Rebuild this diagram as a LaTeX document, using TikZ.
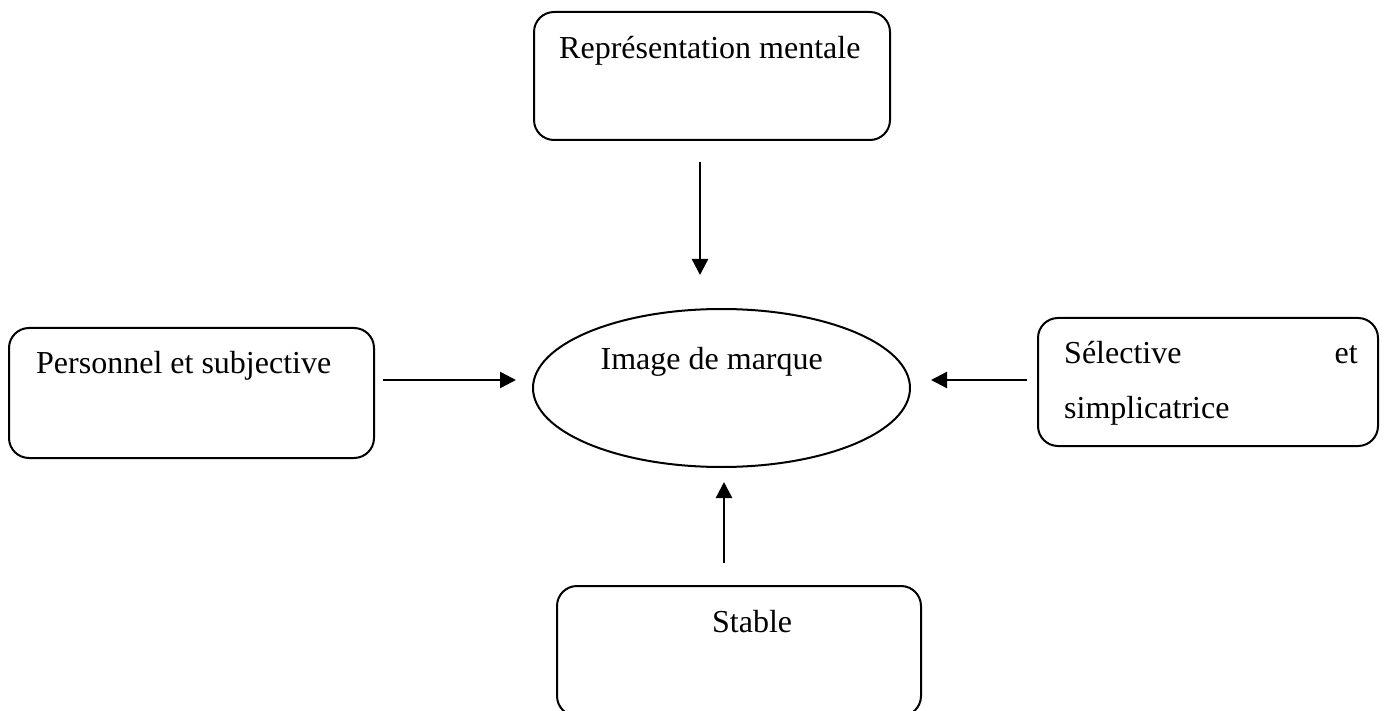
\documentclass[tikz,border=0pt]{standalone}
\usepackage{fontspec}
\setmainfont{Liberation Serif}
\usetikzlibrary{arrows.meta,shapes.geometric}
\begin{document}
\begin{tikzpicture}[x=1pt,y=-1pt,
  box/.style={draw, line width=2pt, rounded corners=20pt, inner sep=0pt},
  oval/.style={draw, ellipse, line width=2pt, inner sep=0pt},
  lbl/.style={inner sep=0pt, font=\fontsize{32}{38}\selectfont},
  arr/.style={line width=2.4pt, -{Triangle[length=16pt,width=16pt]}}]
\useasboundingbox (0,0) rectangle (1387,711);

% frames
\node[box, minimum width=356pt, minimum height=128pt] (rep) at (712,76) {};
\node[box, minimum width=365pt, minimum height=130pt] (pers) at (191.5,393) {};
\node[box, minimum width=340pt, minimum height=128pt] (sel) at (1208,382) {};
\node[box, minimum width=364pt, minimum height=130pt] (stab) at (739,651) {};
\node[oval, minimum width=377pt, minimum height=158pt] (img) at (721.5,388) {};

% texts
\node[lbl, anchor=base west] (repT) at (559,59) {Représentation mentale};
\node[lbl, anchor=base west] (persT) at (36,373) {Personnel et subjective};
\node[lbl, anchor=base west] (selA) at (1064,363) {Sélective};
\node[lbl, anchor=base east] (selB) at (1358,363) {et};
\node[lbl, anchor=base west] (selC) at (1064,418) {simplicatrice};
\node[lbl, anchor=base east] (imgT) at (823,370) {Image de marque};
\node[lbl, anchor=base west] (stabT) at (712,632) {Stable};

% arrow ends
\coordinate (a1) at (700,162);
\coordinate (b1) at (700,275);
\coordinate (a2) at (383,380);
\coordinate (b2) at (516,380);
\coordinate (a3) at (1027,380);
\coordinate (b3) at (931,380);
\coordinate (a4) at (724,563);
\coordinate (b4) at (724,482);

\draw[arr] (a1) -- (b1);
\draw[arr] (a2) -- (b2);
\draw[arr] (a3) -- (b3);
\draw[arr] (a4) -- (b4);
\end{tikzpicture}
\end{document}
